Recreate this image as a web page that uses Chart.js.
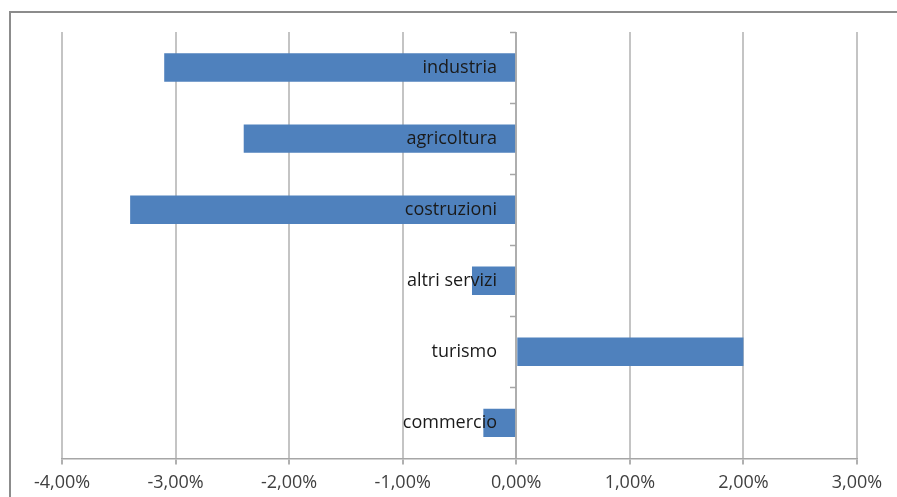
<!DOCTYPE html>
<html>
<head>
<meta charset="utf-8">
<script src="https://cdn.jsdelivr.net/npm/chart.js@4.4.1/dist/chart.umd.min.js"></script>
<style>
  html, body { margin: 0; padding: 0; background: #fff; }
  #wrap { width: 897px; height: 497px; position: relative; }
</style>
</head>
<body>
<div id="wrap"><canvas id="sectorChart"></canvas></div>
<script>
const categories = ['industria', 'agricoltura', 'costruzioni', 'altri servizi', 'turismo', 'commercio'];
const changes = [-0.031, -0.024, -0.034, -0.0039, 0.020, -0.0029];
const xTicks = [-0.04, -0.03, -0.02, -0.01, 0, 0.01, 0.02, 0.03];

const fmtPct = v => (v * 100).toFixed(2).replace('.', ',') + '%';

// frame, zero axis with ticks, labels next to the axis
const decorations = {
    id: 'decorations',
    beforeDraw(chart) {
        const c = chart.ctx;
        c.save();
        c.strokeStyle = '#8c8c8c';
        c.lineWidth = 2;
        c.strokeRect(10, 12, 1000, 1000);
        c.restore();
    },
    afterDatasetsDraw(chart) {
        const c = chart.ctx;
        const x = chart.scales.x;
        const y = chart.scales.y;
        const x0 = Math.round(x.getPixelForValue(0));
        const area = chart.chartArea;
        c.save();
        c.strokeStyle = '#a6a6a6';
        c.lineWidth = 1.5;
        c.beginPath();
        c.moveTo(x0, area.top);
        c.lineTo(x0, area.bottom);
        const step = (area.bottom - area.top) / categories.length;
        for (let i = 0; i < categories.length; i++) {
            const ty = Math.round(area.top + i * step) + 0.5;
            c.moveTo(x0 - 6, ty);
            c.lineTo(x0, ty);
        }
        c.stroke();
        c.fillStyle = '#1a1a1a';
        c.font = '18px "Open Sans"';
        c.textAlign = 'right';
        c.textBaseline = 'middle';
        categories.forEach((name, i) => {
            c.fillText(name, x0 - 19, y.getPixelForValue(i));
        });
        c.restore();
    }
};

new Chart(document.getElementById('sectorChart').getContext('2d'), {
    type: 'bar',
    data: {
        labels: categories,
        datasets: [{
            data: changes,
            backgroundColor: '#4f81bd',
            borderWidth: 0,
            barPercentage: 0.4,
            categoryPercentage: 1
        }]
    },
    options: {
        indexAxis: 'y',
        responsive: true,
        maintainAspectRatio: false,
        animation: false,
        layout: { padding: { left: 62, right: 40, top: 32, bottom: -5 } },
        plugins: {
            legend: { display: false },
            tooltip: { enabled: false }
        },
        scales: {
            x: {
                min: -0.04,
                max: 0.03,
                afterBuildTicks: scale => { scale.ticks = xTicks.map(v => ({ value: v })); },
                grid: { color: '#c4c4c4', lineWidth: 2, tickLength: 6, tickColor: '#b0b0b0' },
                border: { color: '#a6a6a6', width: 1.5 },
                ticks: {
                    callback: v => fmtPct(v),
                    color: '#404040',
                    font: { family: 'Open Sans', size: 18 },
                    padding: 8,
                    maxRotation: 0
                }
            },
            y: {
                display: false,
                offset: true
            }
        }
    },
    plugins: [decorations]
});
</script>
</body>
</html>
